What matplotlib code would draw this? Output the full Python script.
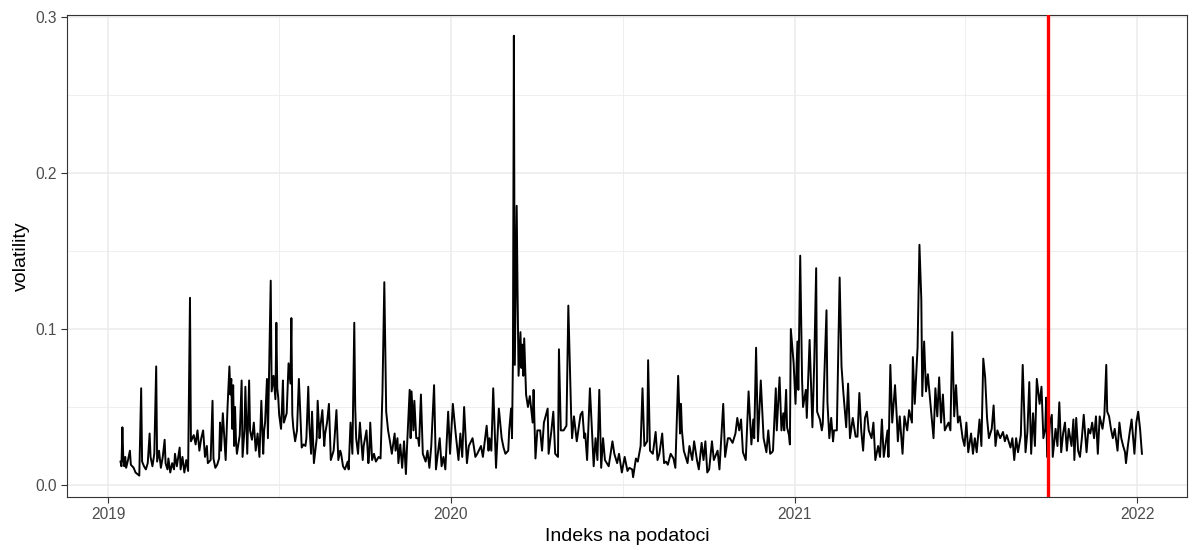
import matplotlib
matplotlib.use("Agg")
import matplotlib.pyplot as plt
import pandas as pd

# days since 2019-01-01 and the volatility read at that date
days = [13, 14, 15, 16, 17, 18, 19, 21, 23, 24, 27, 29, 33, 35, 36, 38, 40, 42, 44, 45, 47, 49, 51, 52, 54, 56, 58, 60, 61, 63, 64, 66, 68, 70, 71, 73, 76, 77, 79, 81, 83, 85, 87, 88, 91, 93, 95, 97, 99,
        101, 103, 105, 106, 109, 111, 112, 114, 116, 118, 119, 120, 122, 125, 127, 129, 130, 131, 132, 133, 134, 135, 136, 137, 140, 142, 143, 145, 146, 148, 150, 151, 153, 155, 157, 159, 161, 163, 165, 166, 167, 169, 170, 173, 174, 176, 178, 179, 180, 181, 182, 184, 185, 186, 187, 190, 192, 194, 195, 196, 197, 199, 201,
        203, 206, 208, 210, 211, 213, 214, 216, 217, 219, 222, 223, 225, 226, 228, 230, 231, 233, 235, 237, 240, 241, 243, 245, 247, 248, 250, 252, 255, 256, 258, 260, 262, 263, 264, 266, 268, 271, 272, 275, 277, 278, 279, 281, 283, 285, 288, 290, 292, 294, 296, 298, 300, 302, 305,
        306, 308, 309, 311, 313, 315, 316, 317, 318, 321, 322, 323, 325, 326, 328, 330, 331, 333, 335, 338, 340, 342, 344, 347, 349, 353, 355, 357, 359, 362, 364, 367, 370, 373, 375, 377, 379, 382, 384, 388, 391, 393, 397, 399, 403, 405,
        406, 408, 410, 413, 416, 419, 421, 423, 426, 427, 429, 430, 431, 432, 433, 435, 436, 437, 439, 440, 441, 442, 443, 445, 447, 449, 452, 453, 455, 457, 460, 462, 464, 468, 469, 472, 474, 476, 479, 480, 482, 485, 488, 490, 493, 494, 496, 499, 503, 505, 507,
        508, 510, 513, 517, 519, 521, 523, 525, 527, 529, 533, 537, 539, 542, 544, 547, 550, 553, 555, 558, 559, 562, 564, 567, 569, 571, 574, 575, 577, 580, 583, 585, 587, 590, 592, 594, 596, 599, 602, 604, 607, 609,
        610, 611, 613, 617, 619, 622, 624, 627, 629, 632, 634, 636, 638, 640, 643, 645, 649, 651, 655, 657, 660, 662, 665, 668, 670, 672, 674, 676, 679, 682, 685, 687, 688, 690, 692, 695, 698, 701, 703, 705, 707,
        708, 711, 712, 715, 717, 719, 720, 722, 723, 725, 726, 727, 730, 732, 734, 735, 737, 739, 740, 743, 744, 747, 749, 750, 752, 754, 755, 758, 760, 761, 765, 766, 768, 770, 772, 773, 776, 779, 781, 783, 786, 788, 790, 793, 796, 798, 800, 802, 804, 806, 808, 810,
        813, 815, 817, 820, 822, 824, 826, 830, 831, 833, 835, 838, 840, 841, 843, 846, 848, 851, 853, 856, 857, 859, 862, 864, 866, 867, 869, 871, 873, 875, 879, 881, 883, 885, 887, 889, 891, 895, 897, 899, 901, 903, 905, 907, 910, 912,
        914, 916, 919, 921, 923, 925, 928, 930, 932, 934, 936, 938, 941, 943, 945, 947, 950, 953, 955, 957, 961, 963, 965, 967, 969, 972, 974, 977, 979, 981, 983, 985, 987, 989, 992, 994, 996, 998, 999, 1000, 1002, 1003,
        1005, 1006, 1009, 1011, 1013, 1015, 1017, 1019, 1021, 1023, 1026, 1028, 1029, 1031, 1033, 1035, 1037, 1039, 1042, 1044, 1046, 1048, 1050, 1052, 1054, 1056, 1059, 1061, 1063, 1064, 1066, 1068, 1070, 1072, 1075, 1077, 1079, 1081, 1083, 1084, 1086, 1088, 1090, 1093, 1095, 1097, 1099, 1101]

volatility = [.015, .012, .037, .016, .012, .018, .011, .016, .022, .013, .011, .008, .006, .062, .015, .012, .010, .014, .033, .018, .012, .020, .076, .015, .022, .011, .018, .029, .014, .010, .017, .008, .014, .010, .020, .012, .024, .010, .018, .008, .016, .009, .120, .028, .032, .026, .035, .022, .030,
              .035, .018, .025, .014, .016, .054, .017, .011, .013, .017, .040, .022, .046, .016, .050, .076, .058, .068, .036, .064, .025, .050, .028, .020, .032, .067, .018, .035, .063, .020, .067, .035, .029, .040, .022, .033, .018, .054, .020, .035, .040, .068, .030, .131, .060, .070, .055, .104, .062, .056, .045, .036, .050, .067, .040, .046, .078, .065, .107, .045, .037, .028, .035,
              .068, .024, .026, .025, .030, .063, .040, .020, .047, .014, .030, .054, .030, .038, .048, .025, .033, .040, .052, .016, .022, .030, .048, .016, .022, .020, .012, .010, .015, .010, .040, .020, .104, .050, .030, .020, .040, .016, .025, .035, .014, .020, .040, .016, .020, .015, .018, .017, .059, .130, .047, .035, .028, .020, .033,
              .022, .030, .014, .026, .011, .028, .018, .007, .022, .061, .030, .060, .035, .054, .030, .030, .025, .058, .020, .015, .022, .011, .025, .064, .010, .030, .012, .018, .010, .047, .020, .052, .033, .016, .033, .018, .050, .014, .025, .030, .018, .020, .025, .018, .038, .022,
              .030, .022, .062, .011, .049, .030, .024, .020, .022, .035, .049, .030, .080, .288, .077, .179, .120, .070, .098, .075, .090, .070, .094, .058, .050, .057, .040, .061, .017, .035, .035, .022, .040, .049, .020, .035, .047, .020, .018, .087, .035, .035, .038, .115, .045, .030, .044, .028, .045, .047, .030,
              .033, .016, .062, .012, .030, .016, .061, .011, .030, .016, .012, .028, .020, .014, .020, .008, .018, .009, .011, .010, .005, .017, .015, .025, .062, .025, .028, .080, .022, .020, .034, .016, .020, .033, .014, .015, .013, .020, .017, .011, .070, .033,
              .052, .035, .022, .014, .025, .016, .028, .016, .010, .027, .016, .028, .008, .010, .028, .016, .022, .010, .052, .018, .030, .030, .027, .033, .043, .035, .042, .021, .016, .060, .026, .042, .030, .088, .028, .067, .030, .021, .035, .020, .021,
              .022, .062, .035, .069, .035, .046, .035, .061, .037, .032, .026, .100, .078, .052, .092, .061, .147, .067, .050, .061, .043, .093, .057, .037, .080, .139, .047, .042, .035, .039, .112, .053, .030, .043, .028, .035, .035, .133, .076, .059, .037, .065, .030, .043, .031, .031, .059, .035, .022, .043, .047, .035,
              .030, .040, .016, .025, .018, .042, .018, .035, .018, .077, .040, .064, .042, .028, .044, .020, .044, .035, .048, .040, .082, .052, .088, .154, .119, .057, .092, .060, .071, .057, .030, .062, .044, .069, .040, .058, .035, .040, .035, .098, .044, .064, .040, .044, .030, .025,
              .040, .021, .033, .020, .030, .021, .042, .025, .081, .069, .043, .030, .036, .051, .025, .035, .030, .034, .028, .032, .024, .030, .016, .030, .021, .032, .077, .021, .034, .066, .020, .046, .025, .068, .052, .063, .030, .036, .056, .018, .030, .040,
              .045, .018, .036, .025, .053, .021, .033, .040, .022, .036, .025, .042, .016, .043, .022, .018, .030, .045, .021, .036, .033, .040, .030, .044, .020, .044, .036, .045, .077, .047, .044, .036, .030, .036, .022, .040, .030, .025, .021, .014, .025, .034, .042, .020, .040, .047, .036, .020]

start_date = "2019-01-01"
cutoff_date = "2021-09-28"
x_tick_years = ["2019", "2020", "2021", "2022"]
y_ticks = [0.0, 0.1, 0.2, 0.3]
x_label = "Indeks na podatoci"
y_label = "volatility"

dates = pd.to_datetime(start_date) + pd.to_timedelta(days, unit="D")

plt.rcParams["font.family"] = ["Liberation Sans", "DejaVu Sans"]

fig = plt.figure(figsize=(11.96, 5.5), dpi=100)
ax = fig.add_axes([67 / 1196, 1 - 497 / 550, (1187 - 67) / 1196, (497 - 15) / 550])

ax.plot(dates, volatility, color="black", lw=1.4, zorder=3)
ax.axvline(pd.to_datetime(cutoff_date), color="#FF0000", lw=2.4, zorder=4)

ax.set_xlim(pd.to_datetime(start_date) - pd.Timedelta(days=44), pd.to_datetime(start_date) + pd.Timedelta(days=1149))
ax.set_ylim(-0.0077, 0.3013)

major_x = [pd.to_datetime(y + "-01-01") for y in x_tick_years]
minor_x = [pd.to_datetime(y + "-07-02") for y in x_tick_years[:-1]]
ax.set_xticks(major_x)
ax.set_xticklabels(x_tick_years)
ax.set_xticks(minor_x, minor=True)
ax.set_yticks(y_ticks)
ax.set_yticklabels([f"{v:.1f}" for v in y_ticks])
ax.set_yticks([0.05, 0.15, 0.25], minor=True)

ax.grid(which="major", color="#EBEBEB", lw=1.1, zorder=0)
ax.grid(which="minor", color="#EBEBEB", lw=0.55, zorder=0)
ax.set_axisbelow(True)

for s in ax.spines.values():
    s.set_color("#333333")
    s.set_linewidth(0.8)

ax.tick_params(axis="both", which="major", length=4.5, width=0.8, color="#333333",
               labelcolor="#4D4D4D", labelsize=11.2, pad=3)
ax.tick_params(axis="both", which="minor", length=0)

ax.set_xlabel(x_label, fontsize=14, color="black", labelpad=4)
ax.set_ylabel(y_label, fontsize=14, color="black", labelpad=4)

fig.savefig("out.png", dpi=100)
